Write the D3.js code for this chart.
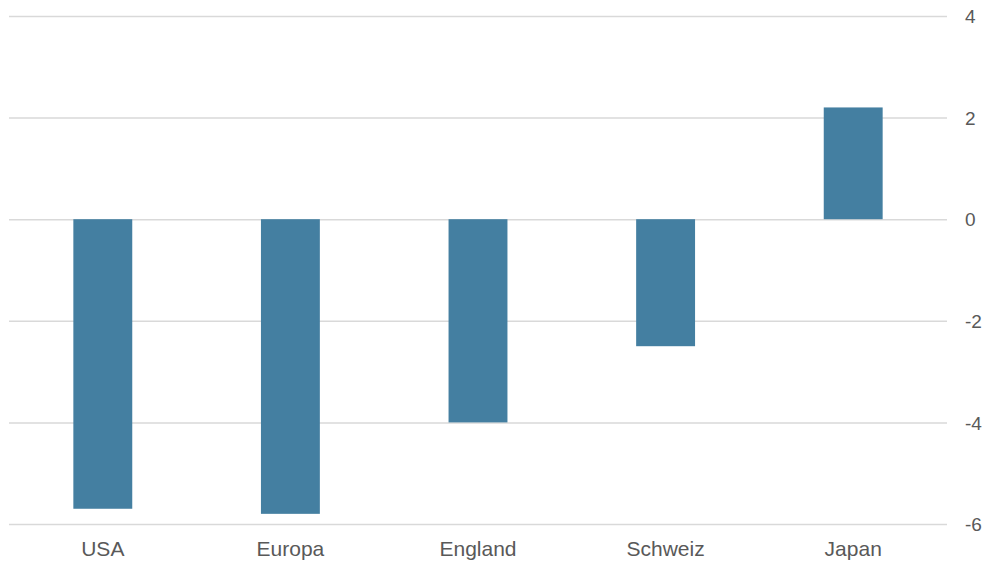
<!DOCTYPE html>
<html>
<head>
<meta charset="utf-8">
<script src="https://cdn.jsdelivr.net/npm/d3@7"></script>
<style>
  html, body { margin: 0; padding: 0; background: #ffffff; }
  svg { display: block; font-family: "Liberation Sans", Arial, sans-serif; }
</style>
</head>
<body>
<div id="chart"></div>
<script>
var categories = ['USA', 'Europa', 'England', 'Schweiz', 'Japan'];
var values = [-5.7, -5.8, -4.0, -2.5, 2.2];
var tickValues = [4, 2, 0, -2, -4, -6];

var width = 982;
var height = 562;
var barColor = '#447fa1';
var gridColor = '#d9d9d9';
var textColor = '#595959';

var svg = d3.select('#chart').append('svg')
    .attr('width', width)
    .attr('height', height);

var x = d3.scaleBand()
    .domain(categories)
    .range([9, 947])
    .paddingInner(0.686)
    .paddingOuter(0.343);

var y = d3.scaleLinear()
    .domain([-6, 4])
    .range([524, 16]);

// gridlines + labels on the right (plain hyphen for negatives)
var yAxis = d3.axisRight(y)
    .tickValues(tickValues)
    .tickSize(938)
    .tickPadding(18)
    .tickFormat(function (d) { return String(d); });

var yG = svg.append('g')
    .attr('transform', 'translate(9,0)')
    .call(yAxis);
yG.select('.domain').remove();
yG.selectAll('.tick line')
    .attr('stroke', gridColor)
    .attr('stroke-width', 1.5);
yG.selectAll('.tick text')
    .attr('fill', textColor)
    .attr('font-size', 19)
    .attr('dy', '0.35em');

// bars
svg.append('g').selectAll('rect')
    .data(values)
    .enter()
    .append('rect')
    .attr('x', function (d, i) { return x(categories[i]); })
    .attr('width', x.bandwidth())
    .attr('y', function (d) { return y(Math.max(0, d)); })
    .attr('height', function (d) { return Math.abs(y(d) - y(0)); })
    .attr('fill', barColor);

// category labels
var xAxis = d3.axisBottom(x).tickSize(0).tickPadding(0);
var xG = svg.append('g')
    .attr('transform', 'translate(0,541)')
    .call(xAxis);
xG.select('.domain').remove();
xG.selectAll('.tick text')
    .attr('fill', textColor)
    .attr('font-size', 21)
    .attr('font-family', '"Liberation Sans", Arial, sans-serif');
</script>
</body>
</html>
